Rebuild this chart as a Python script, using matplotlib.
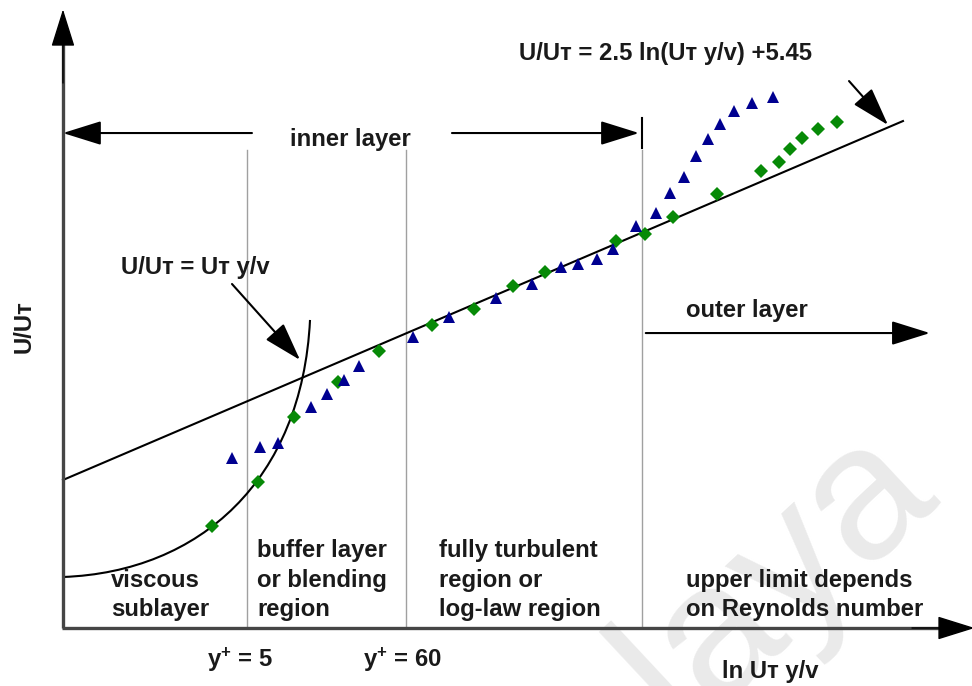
import matplotlib
matplotlib.use('Agg')
import matplotlib.pyplot as plt
import numpy as np
from matplotlib.path import Path
from matplotlib.patches import PathPatch

plt.rcParams['font.family'] = ['Liberation Sans', 'DejaVu Sans']
plt.rcParams['mathtext.fontset'] = 'custom'
plt.rcParams['mathtext.rm'] = 'Liberation Sans:bold'
plt.rcParams['mathtext.it'] = 'Liberation Sans:bold'
plt.rcParams['mathtext.bf'] = 'Liberation Sans:bold'

# ---------------- data (x = ln(U_tau y / nu), y = U/U_tau, schematic units) -------------
tri_x = [1.375, 1.812, 2.094, 2.609, 2.859, 3.125, 3.359, 4.203, 4.766, 5.500, 6.063,
         6.516, 6.781, 7.078, 7.328, 7.688, 8.000, 8.219, 8.438, 8.625, 8.813, 9.000,
         9.219, 9.500, 9.828]
tri_y = [15.60, 16.61, 16.97, 20.28, 21.47, 22.75, 24.04, 26.70, 28.53, 30.28, 31.56,
         33.12, 33.39, 33.85, 34.77, 36.88, 38.07, 39.91, 41.38, 43.30, 44.86, 46.24,
         47.43, 48.17, 48.72]
dia_x = [1.062, 1.781, 2.344, 3.031, 3.672, 4.500, 5.156, 5.766, 6.266, 7.375, 7.828,
         8.266, 8.953, 9.641, 9.922, 10.094, 10.281, 10.531, 10.828]
dia_y = [9.36, 13.39, 19.36, 22.57, 25.41, 27.80, 29.27, 31.38, 32.66, 35.50, 36.15,
         37.71, 39.82, 41.93, 42.75, 43.94, 44.95, 45.78, 46.42]

# log-law line end points
loglaw_x = [-1.266, 11.859]
loglaw_y = [13.58, 46.51]
# viscous sublayer curve (cubic Bezier control points)
visc_x = [-1.266, 0.875, 2.469, 2.594]
visc_y = [4.68, 5.14, 13.58, 28.26]

# region boundaries: y+ = 5, y+ = 60, outer-layer start
bound_x = [np.log(5), np.log(60), 7.781]
bound_top = 43.85
tick_y = [44.04, 46.79]

x0, y0 = -1.266, 0.0          # axes origin
x_tip, y_tip = 12.98, 56.76   # axis arrow tips

region_texts = ["viscous\nsublayer", "buffer layer\nor blending\nregion",
                "fully turbulent\nregion or\nlog-law region",
                "upper limit depends\non Reynolds number"]
region_pos = [(-0.516, 1.10), (1.766, 1.10), (4.609, 1.10), (8.469, 1.10)]

TXT = '#1a1a1a'
FS = 17.2

fig = plt.figure(figsize=(9.72, 6.86), dpi=100)
ax = fig.add_axes([0, 0, 1, 1])
ax.set_xlim(-2.250, 12.9375)
ax.set_ylim(-5.321, 57.615)
ax.axis('off')

# watermark
ax.text(0.50, -0.33, 'Malaya', transform=fig.transFigure, rotation=43,
        rotation_mode='anchor', ha='left', va='baseline', fontsize=138,
        color='#eaeaea', family='Liberation Sans', zorder=0, clip_on=False)

HEAD = '-|>,head_length=24,head_width=7.5'


def arrow(xa, ya, xb, yb, lw=1.5, color='black', z=5):
    ax.annotate('', xy=(xb, yb), xytext=(xa, ya), annotation_clip=False,
                arrowprops=dict(arrowstyle=HEAD, mutation_scale=1, lw=lw,
                                color=color, shrinkA=0, shrinkB=0),
                zorder=z)


# axes
ax.plot([x0, x0], [y0, 54.0], color='#454545', lw=2.4, zorder=4, solid_capstyle='butt')
ax.plot([x0 - 0.02, 12.5], [y0, y0], color='#454545', lw=2.4, zorder=4, solid_capstyle='butt')
arrow(x0, 50.0, x0, y_tip, lw=1.0)
arrow(12.0, y0, x_tip, y0, lw=1.0)

# region boundaries
for bx in bound_x:
    ax.plot([bx, bx], [y0, bound_top], color='#a0a0a0', lw=1.0, zorder=2)
ax.plot([bound_x[2], bound_x[2]], tick_y, color='black', lw=1.5, zorder=3)

# inner / outer layer arrows
arrow(1.687, 45.41, x0, 45.41)
arrow(4.812, 45.41, 7.734, 45.41)
arrow(7.84, 27.06, 12.28, 27.06)

# log-law and viscous curves
ax.plot(loglaw_x, loglaw_y, color='black', lw=1.5, zorder=3)
verts = list(zip(visc_x, visc_y))
path = Path(verts, [Path.MOVETO, Path.CURVE4, Path.CURVE4, Path.CURVE4])
ax.add_patch(PathPatch(path, fill=False, edgecolor='black', lw=1.5, zorder=3))

# pointers to the formulas
arrow(11.016, 50.18, 11.625, 46.15)
arrow(1.375, 31.56, 2.438, 24.59)

# data markers
ax.plot(dia_x, dia_y, linestyle='none', marker='D', markersize=6.8,
        color='#078a07', markeredgewidth=0, zorder=6)
ax.plot(tri_x, tri_y, linestyle='none', marker='^', markersize=9.0,
        color='#000090', markeredgewidth=0, zorder=7)

# texts
tk = dict(fontsize=FS, fontweight='bold', color=TXT, zorder=8)
ax.text(5.859, 52.11, 'U/U\u0442 = 2.5 ln(U\u0442 y/v) +5.45', ha='left', va='baseline', **tk)
ax.text(2.281, 44.22, 'inner layer', ha='left', va='baseline', **tk)
ax.text(-0.359, 32.48, 'U/U\u0442 = U\u0442 y/v', ha='left', va='baseline', **tk)
ax.text(8.469, 28.53, 'outer layer', ha='left', va='baseline', **tk)
for t, (tx, ty) in zip(region_texts, region_pos):
    ax.text(tx, ty, t, ha='left', va='baseline', linespacing=1.36, **tk)
ax.text(0.984, -3.58, r'$\mathrm{y}^{+}$ = 5', ha='left', va='baseline', **tk)
ax.text(3.422, -3.58, r'$\mathrm{y}^{+}$ = 60', ha='left', va='baseline', **tk)
ax.text(9.031, -4.59, 'ln U\u0442 y/v', ha='left', va='baseline', **tk)
ax.text(-1.875, 27.61, 'U/U\u0442', rotation=90, ha='center', va='center', **tk)

fig.savefig('out.png', dpi=100)
